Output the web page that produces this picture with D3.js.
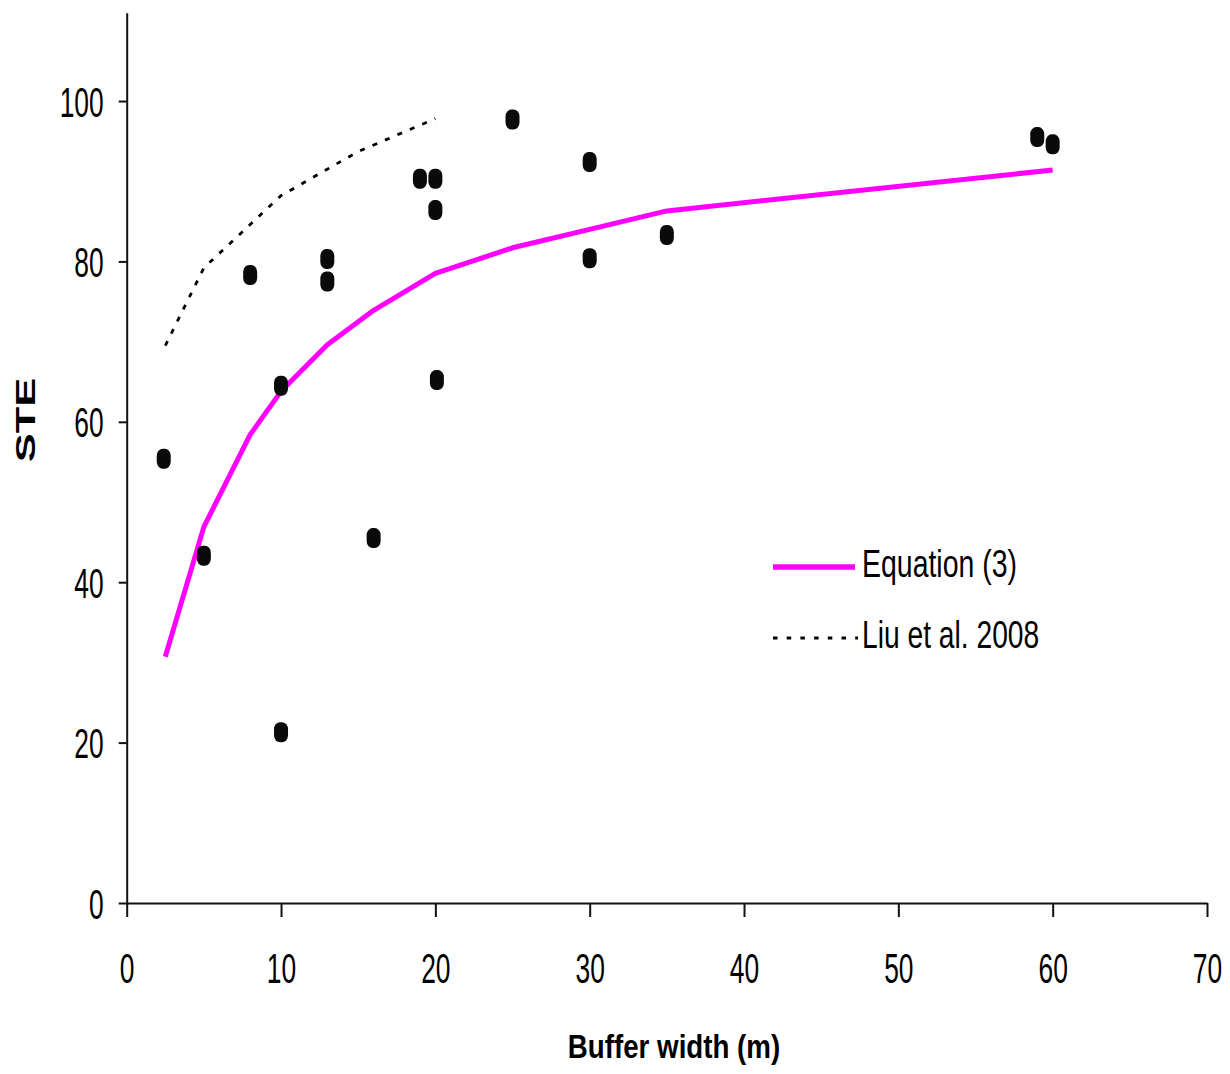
<!DOCTYPE html>
<html>
<head>
<meta charset="utf-8">
<script src="https://cdnjs.cloudflare.com/ajax/libs/d3/7.8.5/d3.min.js"></script>
<style>
  body { margin: 0; background: #fff; }
  svg { display: block; }
  .lbl { font-family: "Liberation Sans", Arial, sans-serif; }
</style>
</head>
<body>
<div id="chart"></div>
<script>
// observed points (buffer width, STE)
const obsX = [2.4, 5, 8, 10, 10, 13, 13, 16, 19, 20, 20, 20.1, 25, 30, 30, 35, 59, 60];
const obsY = [55.4, 43.3, 78.3, 64.5, 21.3, 80.3, 77.5, 45.5, 90.3, 90.3, 86.4, 65.2, 97.7, 92.4, 80.4, 83.3, 95.5, 94.6];

// Equation (3) curve
const eqX = [2.5, 5, 8, 10, 13, 16, 20, 25, 30, 35, 60];
const eqY = [30.7, 46.9, 58.4, 63.8, 69.6, 73.9, 78.5, 81.7, 84.0, 86.3, 91.4];

// Liu et al. 2008
const liuX = [2.5, 5, 10, 15, 20];
const liuY = [69.5, 79.2, 88.2, 93.7, 97.8];

const xTicks = [0, 10, 20, 30, 40, 50, 60, 70];
const yTicks = [0, 20, 40, 60, 80, 100];

const W = 1230, H = 1074;

const svg = d3.select('#chart').append('svg')
  .attr('width', W)
  .attr('height', H);

svg.append('rect').attr('width', W).attr('height', H).attr('fill', '#fff');

const x = d3.scaleLinear().domain([0, 70]).range([126.7, 1207]);
const y = d3.scaleLinear().domain([0, 111]).range([903, 12.8]);

// axes
const xAxis = svg.append('g')
  .attr('transform', `translate(0,${y(0)})`)
  .call(d3.axisBottom(x).tickValues(xTicks).tickSize(14).tickSizeOuter(0));

const yAxis = svg.append('g')
  .attr('transform', `translate(${x(0)},0)`)
  .call(d3.axisLeft(y).tickValues(yTicks).tickSize(8).tickSizeOuter(0));

[xAxis, yAxis].forEach((g) => {
  g.select('.domain').attr('stroke', '#111').attr('stroke-width', 2);
  g.selectAll('.tick line').attr('stroke', '#111').attr('stroke-width', 2);
  g.selectAll('.tick text')
    .attr('class', 'lbl')
    .attr('fill', '#000')
    .style('font-size', '29px')
    .attr('x', 0)
    .attr('y', 0)
    .attr('dy', '0.36em');
});

xAxis.selectAll('.tick text')
  .attr('text-anchor', 'middle')
  .attr('transform', 'translate(0,65) scale(0.91,1.45)');

yAxis.selectAll('.tick text')
  .attr('text-anchor', 'end')
  .attr('transform', 'translate(-23,0) scale(0.91,1.45)');

// lines
const line = d3.line().x((d) => x(d[0])).y((d) => y(d[1]));

svg.append('path')
  .datum(d3.zip(liuX, liuY))
  .attr('d', line)
  .attr('fill', 'none')
  .attr('stroke', '#000')
  .attr('stroke-width', 2.8)
  .attr('stroke-dasharray', '5,8.5');

svg.append('path')
  .datum(d3.zip(eqX, eqY))
  .attr('d', line)
  .attr('fill', 'none')
  .attr('stroke', '#ff00ff')
  .attr('stroke-width', 5)
  .attr('stroke-linejoin', 'round');

// observed markers
svg.append('g')
  .selectAll('rect')
  .data(d3.zip(obsX, obsY))
  .join('rect')
  .attr('x', (d) => x(d[0]) - 7)
  .attr('y', (d) => y(d[1]) - 10)
  .attr('width', 14)
  .attr('height', 20)
  .attr('rx', 6)
  .attr('ry', 7)
  .attr('fill', '#0a0a0a');

// legend
const legend = svg.append('g');
legend.append('line')
  .attr('x1', 773).attr('x2', 855).attr('y1', 567).attr('y2', 567)
  .attr('stroke', '#ff00ff').attr('stroke-width', 5.5);
legend.append('line')
  .attr('x1', 773).attr('x2', 858).attr('y1', 638).attr('y2', 638)
  .attr('stroke', '#000').attr('stroke-width', 2.8)
  .attr('stroke-dasharray', '4.5,9.2');

legend.append('text')
  .attr('class', 'lbl')
  .attr('transform', 'translate(862,577) scale(0.837,1.12)')
  .style('font-size', '34px')
  .text('Equation (3)');
legend.append('text')
  .attr('class', 'lbl')
  .attr('transform', 'translate(862,648) scale(0.83,1.12)')
  .style('font-size', '34px')
  .text('Liu et al. 2008');

// axis titles
svg.append('text')
  .attr('class', 'lbl')
  .attr('transform', 'translate(674,1058) scale(0.84,1)')
  .attr('text-anchor', 'middle')
  .style('font-size', '33px')
  .style('font-weight', 'bold')
  .text('Buffer width (m)');

svg.append('text')
  .attr('class', 'lbl')
  .attr('transform', 'translate(35,420) rotate(-90) scale(1.55,1)')
  .attr('text-anchor', 'middle')
  .style('font-size', '28px')
  .style('font-weight', 'bold')
  .text('STE');
</script>
</body>
</html>
